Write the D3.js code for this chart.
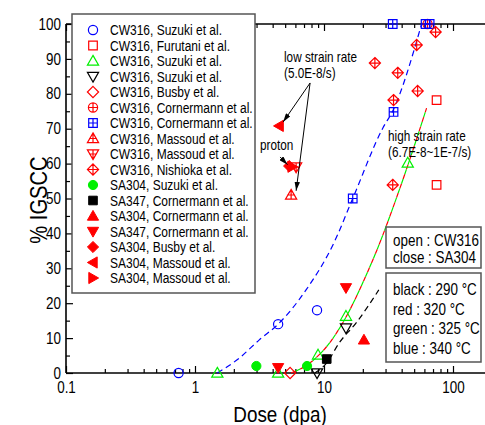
<!DOCTYPE html>
<html><head><meta charset="utf-8">
<script src="https://cdn.jsdelivr.net/npm/d3@7"></script>
<style>
html,body{margin:0;padding:0;background:#fff;}
svg{display:block;}
text{font-family:"Liberation Sans",Arial,sans-serif;fill:#000;}
</style>
</head><body>
<svg id="c" width="485" height="425"></svg>
<script>
// ---------------- DATA ----------------
const legendLabels = [
  "CW316, Suzuki et al.", "CW316, Furutani et al.", "CW316, Suzuki et al.", "CW316, Suzuki et al.",
  "CW316, Busby et al.", "CW316, Cornermann et al.", "CW316, Cornermann et al.", "CW316, Massoud et al.",
  "CW316, Massoud et al.", "CW316, Nishioka et al.", "SA304, Suzuki et al.", "SA347, Cornermann et al.",
  "SA304, Cornermann et al.", "SA347, Cornermann et al.", "SA304, Busby et al.", "SA304, Massoud et al.",
  "SA304, Massoud et al."
];
// [dose (dpa), % IGSCC]
const cw316SuzukiBlue      = [[0.746, 0], [4.41, 14.0], [8.83, 18.0]];
const cw316Furutani        = [[74.6, 78.2], [74.6, 53.9]];
const cw316SuzukiGreen     = [[1.49, 0], [4.41, 0], [8.99, 5.2], [14.8, 16.3], [44.6, 60.2]];
const cw316SuzukiBlack     = [[8.83, 0], [14.8, 12.9]];
const cw316Busby           = [[5.46, 0]];
const cw316CornermannRed   = [[63.5, 100]];
const cw316CornermannBlue  = [[34.1, 100], [61.3, 100], [65.9, 100], [34.6, 74.8], [16.7, 50]];
const cw316MassoudUp       = [[5.56, 51.0]];
const cw316MassoudDown     = [[6.08, 59.0]];
const cw316Nishioka        = [[73.3, 97.7], [52.3, 94.0], [24.8, 88.8], [37.3, 86.0], [53.2, 80.8], [34.6, 78.2], [34.1, 53.9]];
const sa304Suzuki          = [[2.99, 2.0], [7.39, 2.0]];
const sa347CornermannBlack = [[10.5, 4.0]];
const sa304Cornermann      = [[20.4, 9.5]];
const sa347CornermannRed   = [[4.41, 1.5], [14.8, 24.4]];
const sa304Busby           = [[5.37, 59.3]];
const sa304MassoudLeft     = [[4.49, 70.8]];
const sa304MassoudRight    = [[5.66, 59.1]];

// dashed trend curves
const fitBlue  = [[1.49, 0], [2.21, 4.3], [3.15, 9.5], [4.41, 14.0], [7.26, 23.8], [11.9, 37.2], [16.7, 50], [28.6, 70.2], [34.1, 75.1], [57.1, 100]];
const fitRed   = [[5.56, 0], [7.39, 2.3], [11.5, 9.5], [14.8, 16.0], [20.4, 26.6], [25.7, 35.2], [36.0, 49.6], [45.3, 60.2], [62.4, 75.9]];
const fitGreen = [[5.56, 0], [7.39, 2.3], [11.5, 9.5], [14.8, 16.0], [20.4, 26.6], [25.7, 35.2], [36.0, 49.6], [45.3, 60.2], [62.4, 75.9]];
const fitBlack = [[8.5, 0], [10.5, 2.9], [13.1, 8.6], [17.7, 14.3], [26.6, 23.8]];

const xMajorTicks = [0.1, 1, 10, 100];
const xTickLabels = ["0.1", "1", "10", "100"];
const yMajorTicks = [0, 10, 20, 30, 40, 50, 60, 70, 80, 90, 100];

// ---------------- STYLE TABLE ----------------
const seriesData = [cw316SuzukiBlue, cw316Furutani, cw316SuzukiGreen, cw316SuzukiBlack, cw316Busby,
  cw316CornermannRed, cw316CornermannBlue, cw316MassoudUp, cw316MassoudDown, cw316Nishioka,
  sa304Suzuki, sa347CornermannBlack, sa304Cornermann, sa347CornermannRed, sa304Busby,
  sa304MassoudLeft, sa304MassoudRight];
const seriesShape = ["circle","square","triUp","triDown","diamond","circlePlus","squarePlus","triUpPlus",
  "triDownPlus","diamondPlus","circle","square","triUp","triDown","diamond","triLeft","triRight"];
const GREEN = "#00f000";
const seriesColor = ["#0000ff","#ff0000",GREEN,"#000000","#ff0000","#ff0000","#0000ff","#ff0000",
  "#ff0000","#ff0000",GREEN,"#000000","#ff0000","#ff0000","#ff0000","#ff0000","#ff0000"];
const seriesFilled = [false,false,false,false,false,false,false,false,false,false,true,true,true,true,true,true,true];

// ---------------- CHART ----------------
const W = 485, H = 425, SX = 0.84;
const svg = d3.select("#c");
svg.append("rect").attr("width", W).attr("height", H).attr("fill", "#fff");

const x = d3.scaleLog().domain([0.1, 100]).range([66, 453]);
const y = d3.scaleLinear().domain([0, 100]).range([373, 24]);
const xEnd = 485;

// condensed text helper
function addText(parent, tx, ty, str, size, anchor, rot) {
  return parent.append("text")
    .attr("transform", `translate(${tx},${ty})` + (rot ? ` rotate(${rot})` : "") + ` scale(${SX},1)`)
    .attr("text-anchor", anchor || "start").attr("font-size", size).text(str);
}

const xMinor = [];
[0.1, 1, 10].forEach(dec => { for (let k = 2; k <= 9; k++) xMinor.push(+(k * dec).toPrecision(3)); });
const yMinor = d3.range(5, 100, 10);

function styleAxis(g) {
  g.select(".domain").remove();
  g.selectAll(".tick line").attr("stroke", "#000").attr("stroke-width", 1.2);
}

// bottom axis
const gb = svg.append("g").attr("transform", `translate(0,${y(0)})`);
gb.call(d3.axisBottom(x).tickValues(xMajorTicks).tickSize(-7).tickPadding(9)
  .tickFormat((d, i) => xTickLabels[i])).call(styleAxis);
gb.selectAll(".tick text").attr("font-size", 16).attr("font-family", null).attr("fill", "#000")
  .attr("transform", `scale(${SX},1)`);
svg.append("g").attr("transform", `translate(0,${y(0)})`)
  .call(d3.axisBottom(x).tickValues(xMinor).tickSize(-4).tickFormat("")).call(styleAxis);

// top axis
svg.append("g").attr("transform", `translate(0,${y(100)})`)
  .call(d3.axisTop(x).tickValues(xMajorTicks).tickSize(-7).tickFormat("")).call(styleAxis);
svg.append("g").attr("transform", `translate(0,${y(100)})`)
  .call(d3.axisTop(x).tickValues(xMinor).tickSize(-4).tickFormat("")).call(styleAxis);

// left axis
const gl = svg.append("g").attr("transform", `translate(${x(0.1)},0)`);
gl.call(d3.axisLeft(y).tickValues(yMajorTicks).tickSize(-7).tickPadding(5)).call(styleAxis);
gl.selectAll(".tick text").attr("font-size", 16).attr("font-family", null).attr("fill", "#000")
  .attr("x", -5 / SX).attr("transform", `scale(${SX},1)`);
svg.append("g").attr("transform", `translate(${x(0.1)},0)`)
  .call(d3.axisLeft(y).tickValues(yMinor).tickSize(-4).tickFormat("")).call(styleAxis);

// axis lines
svg.append("line").attr("x1", x(0.1)).attr("x2", xEnd).attr("y1", y(0)).attr("y2", y(0)).attr("stroke", "#000").attr("stroke-width", 1.6);
svg.append("line").attr("x1", x(0.1)).attr("x2", xEnd).attr("y1", y(100)).attr("y2", y(100)).attr("stroke", "#000").attr("stroke-width", 1.6);
svg.append("line").attr("x1", x(0.1)).attr("x2", x(0.1)).attr("y1", y(0)).attr("y2", y(100)).attr("stroke", "#000").attr("stroke-width", 1.6);

// axis titles
addText(svg, 280, 422, "Dose (dpa)", 22.5, "middle");
addText(svg, 47, 200, "% IGSCC", 24, "middle", -90);

// curves
const line = d3.line().x(d => x(d[0])).y(d => y(d[1])).curve(d3.curveMonotoneX);
svg.append("path").attr("d", line(fitBlue)).attr("fill", "none").attr("stroke", "#0000ff").attr("stroke-width", 1.2).attr("stroke-dasharray", "6,4");
svg.append("path").attr("d", line(fitRed)).attr("fill", "none").attr("stroke", "#ff0000").attr("stroke-width", 1.2).attr("stroke-dasharray", "5,5");
svg.append("path").attr("d", line(fitGreen)).attr("fill", "none").attr("stroke", GREEN).attr("stroke-width", 1.2).attr("stroke-dasharray", "5,5").attr("stroke-dashoffset", 5);
svg.append("path").attr("d", line(fitBlack)).attr("fill", "none").attr("stroke", "#000").attr("stroke-width", 1.2).attr("stroke-dasharray", "6,4");

// marker shapes
function shapePath(t) {
  const r = 4.6, s = 4.3, tr = 5.6, dm = 5.6;
  const circ = `M${-r},0A${r},${r} 0 1,0 ${r},0A${r},${r} 0 1,0 ${-r},0Z`;
  switch (t) {
    case "circle": return circ;
    case "circlePlus": return circ + `M${-r},0H${r}M0,${-r}V${r}`;
    case "square": return `M${-s},${-s}H${s}V${s}H${-s}Z`;
    case "squarePlus": return `M${-s},${-s}H${s}V${s}H${-s}Z` + `M${-s},0H${s}M0,${-s}V${s}`;
    case "triUp": return `M0,${-tr}L${tr},${tr*0.75}L${-tr},${tr*0.75}Z`;
    case "triUpPlus": return `M0,${-tr}L${tr},${tr*0.75}L${-tr},${tr*0.75}Z` + `M0,${-tr}V${tr*0.75}M${-tr*0.7},0H${tr*0.7}`;
    case "triDown": return `M0,${tr}L${tr},${-tr*0.75}L${-tr},${-tr*0.75}Z`;
    case "triDownPlus": return `M0,${tr}L${tr},${-tr*0.75}L${-tr},${-tr*0.75}Z` + `M0,${tr}V${-tr*0.75}M${-tr*0.7},0H${tr*0.7}`;
    case "diamond": return `M0,${-dm}L${dm},0L0,${dm}L${-dm},0Z`;
    case "diamondPlus": return `M0,${-dm}L${dm},0L0,${dm}L${-dm},0Z` + `M${-dm},0H${dm}M0,${-dm}V${dm}`;
    case "triLeft": return `M${-tr},0L${tr*0.75},${-tr}L${tr*0.75},${tr}Z`;
    case "triRight": return `M${tr},0L${-tr*0.75},${-tr}L${-tr*0.75},${tr}Z`;
  }
}
function drawMarker(g, i, cx, cy) {
  const filled = seriesFilled[i], col = seriesColor[i];
  g.append("path").attr("d", shapePath(seriesShape[i]))
    .attr("transform", `translate(${cx},${cy})`)
    .attr("fill", filled ? col : "none")
    .attr("stroke", col).attr("stroke-width", filled ? 1 : 1.2);
}

// points
const gp = svg.append("g");
seriesData.forEach((arr, i) => arr.forEach(p => drawMarker(gp, i, x(p[0]), y(p[1]))));

// legend
const lg = svg.append("g");
lg.append("rect").attr("x", 72).attr("y", 14).attr("width", 183).attr("height", 279)
  .attr("fill", "#fff").attr("stroke", "#555").attr("stroke-width", 1.5);
legendLabels.forEach((lab, i) => {
  const cy = 30 + 15.5 * i;
  drawMarker(lg, i, 93, cy);
  addText(lg, 110, cy + 5, lab, 14.3);
});

// info boxes
svg.append("rect").attr("x", 386).attr("y", 227).attr("width", 95).attr("height", 41).attr("fill", "#fff").attr("stroke", "#555").attr("stroke-width", 1.5);
addText(svg, 393, 246, "open : CW316", 16);
addText(svg, 393, 263, "close : SA304", 16);
svg.append("rect").attr("x", 386).attr("y", 273).attr("width", 95).attr("height", 89).attr("fill", "#fff").attr("stroke", "#555").attr("stroke-width", 1.5);
const tempLabels = ["black : 290 °C", "red : 320 °C", "green : 325 °C", "blue : 340 °C"];
tempLabels.forEach((t, i) => addText(svg, 393, 295 + 19.5 * i, t, 16));

// annotations
const defs = svg.append("defs");
defs.append("marker").attr("id", "ah").attr("viewBox", "0 0 10 6").attr("refX", 10).attr("refY", 3)
  .attr("markerWidth", 9).attr("markerHeight", 5.4).attr("markerUnits", "userSpaceOnUse").attr("orient", "auto")
  .append("path").attr("d", "M0,0L10,3L0,6Z").attr("fill", "#000");
const arrows = [
  [[7.80, 83.1], [4.82, 71.9]],
  [[7.80, 83.1], [6.08, 52.2]],
  [[4.57, 61.9], [5.22, 59.7]]
];
arrows.forEach(a => svg.append("line")
  .attr("x1", x(a[0][0])).attr("y1", y(a[0][1])).attr("x2", x(a[1][0])).attr("y2", y(a[1][1]))
  .attr("stroke", "#000").attr("stroke-width", 1).attr("marker-end", "url(#ah)"));
addText(svg, 284, 62, "low strain rate", 14);
addText(svg, 284, 78, "(5.0E-8/s)", 14);
addText(svg, 260, 150, "proton", 14);
addText(svg, 388, 141, "high strain rate", 14);
addText(svg, 388, 157, "(6.7E-8~1E-7/s)", 14);
</script>
</body></html>
